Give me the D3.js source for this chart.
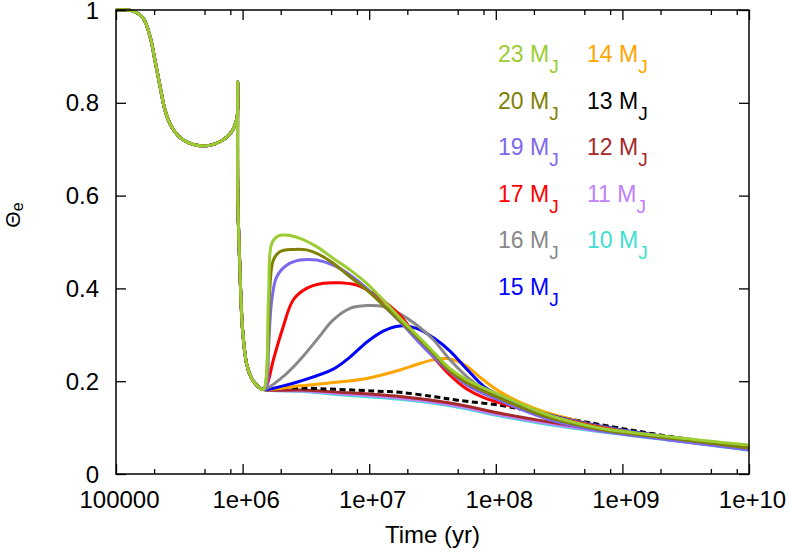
<!DOCTYPE html>
<html lang="en">
<head>
<meta charset="utf-8">
<title>Theta_e vs time</title>
<script src="https://cdn.jsdelivr.net/npm/d3@7"></script>
<style>
  body { margin: 0; background: #fff; }
  svg text { font-family: "Liberation Sans", Arial, Helvetica, sans-serif; fill: #000; }
  .axis path { display: none; }
  .axis line { stroke: #000; stroke-width: 1.3; }
</style>
</head>
<body>
<div id="chart"></div>
<script>
// shared early track (all masses follow it until ~1.5e6 yr)
var early = [[1e5,1.0],[1.35e5,0.998],[1.64e5,0.982],[1.86e5,0.942],[2.03e5,0.892],[2.23e5,0.835],
  [2.44e5,0.784],[2.75e5,0.748],[3.4e5,0.72],[4.9e5,0.707],[6.6e5,0.716],[8.2e5,0.738],[8.97e5,0.763],
  [9.12e5,0.778],[9.14e5,0.845],[9.16e5,0.6],[9.5e5,0.45],[1.0e6,0.31],[1.08e6,0.235],[1.18e6,0.206],
  [1.33e6,0.188],[1.46e6,0.182]];

// tails after the minimum, one list per planet mass
var m23 = [[1.6e6,0.375],[1.7e6,0.497],[1.91e6,0.513],[2.2e6,0.515],[2.84e6,0.508],[3.85e6,0.49],[5.18e6,0.465],
  [7.05e6,0.44],[9.55e6,0.411],[1.29e7,0.375],[1.75e7,0.336],[2.37e7,0.3],[3.2e7,0.264],[4.35e7,0.227],
  [5.9e7,0.203],[1.08e8,0.17],[2.68e8,0.126],[6.65e8,0.099],[2.24e9,0.081],[1e10,0.0625]];
var m20 = [[1.6e6,0.304],[1.64e6,0.4],[1.75e6,0.461],[1.97e6,0.479],[2.51e6,0.484],[3.2e6,0.483],[4.08e6,0.472],
  [5.2e6,0.454],[7.05e6,0.425],[9.55e6,0.397],[1.29e7,0.364],[1.75e7,0.33],[2.37e7,0.296],[3.2e7,0.26],
  [4.35e7,0.222],[5.9e7,0.197],[1.08e8,0.163],[2.68e8,0.121],[6.65e8,0.096],[2.24e9,0.078],[1e10,0.056]];
var m19 = [[1.55e6,0.19],[1.6e6,0.267],[1.7e6,0.375],[1.86e6,0.425],[2.23e6,0.45],[2.84e6,0.461],[3.85e6,0.461],
  [5.2e6,0.45],[7.05e6,0.429],[9.55e6,0.4],[1.29e7,0.364],[1.75e7,0.328],[3.2e7,0.253],[5.9e7,0.192],
  [1.08e8,0.158],[2.68e8,0.117],[6.65e8,0.093],[2.24e9,0.074],[1e10,0.052]];
var m17 = [[1.55e6,0.19],[1.75e6,0.246],[2.09e6,0.317],[2.51e6,0.375],[3.2e6,0.4],[4.34e6,0.411],[5.87e6,0.412],
  [7.96e6,0.407],[1.08e7,0.389],[1.37e7,0.368],[1.75e7,0.342],[2.37e7,0.296],[3.2e7,0.253],[4.35e7,0.213],
  [5.9e7,0.183],[7.96e7,0.165],[1.46e8,0.143],[3.63e8,0.116],[1.22e9,0.088],[1e10,0.055]];
var m16 = [[2.09e6,0.21],[2.84e6,0.246],[3.85e6,0.289],[5.2e6,0.332],[7.05e6,0.357],[9.55e6,0.363],[1.29e7,0.361],
  [1.75e7,0.345],[2.37e7,0.321],[3.2e7,0.29],[4.35e7,0.246],[5.9e7,0.21],[7.96e7,0.183],[1.46e8,0.145],
  [3.63e8,0.117],[1.22e9,0.09],[1e10,0.055]];
var m15 = [[2.09e6,0.19],[2.84e6,0.2],[5.2e6,0.226],[7.05e6,0.252],[9.55e6,0.284],[1.29e7,0.308],[1.75e7,0.319],
  [2.37e7,0.314],[3.2e7,0.294],[4.35e7,0.265],[5.9e7,0.226],[7.96e7,0.19],[1.08e8,0.168],[1.46e8,0.149],
  [3.63e8,0.118],[1.22e9,0.091],[1e10,0.055]];
var m14 = [[2.84e6,0.19],[5.2e6,0.197],[9.55e6,0.206],[1.75e7,0.224],[2.37e7,0.236],[3.2e7,0.246],[4.1e7,0.249],
  [5.0e7,0.243],[5.9e7,0.232],[7.96e7,0.203],[1.08e8,0.177],[2.0e8,0.142],[3.9e8,0.118],[6.65e8,0.103],
  [2.24e9,0.08],[1e10,0.058]];
var m13 = [[2.1e6,0.186],[4.0e6,0.184],[1.07e7,0.179],[1.75e7,0.176],[3.2e7,0.167],[5.0e7,0.159],[1.08e8,0.148],
  [2.0e8,0.134],[3.6e8,0.12],[7.5e8,0.104],[2.24e9,0.082],[1e10,0.056]];
var m12 = [[3e6,0.181],[5.2e6,0.177],[1.75e7,0.167],[4.35e7,0.153],[1.08e8,0.131],[2.68e8,0.112],[6.65e8,0.095],
  [2.24e9,0.077],[1e10,0.054]];
var m11 = [[3e6,0.179],[5.2e6,0.174],[1.75e7,0.163],[4.35e7,0.149],[1.08e8,0.127],[2.68e8,0.108],[6.65e8,0.092],
  [2.24e9,0.075],[1e10,0.052]];
var m10 = [[3e6,0.178],[5.2e6,0.172],[1.75e7,0.161],[4.35e7,0.147],[1.08e8,0.125],[2.68e8,0.106],[6.65e8,0.091],
  [2.24e9,0.074],[1e10,0.051]];

var masses = [23, 20, 19, 17, 16, 15, 14, 13, 12, 11, 10];
var tails = {23: m23, 20: m20, 19: m19, 17: m17, 16: m16, 15: m15, 14: m14, 13: m13, 12: m12, 11: m11, 10: m10};

var xTicks = [1e5, 1e6, 1e7, 1e8, 1e9, 1e10];
var xTickLabels = ["100000", "1e+06", "1e+07", "1e+08", "1e+09", "1e+10"];
var xMinor = [2e5,5e5,8e5, 2e6,5e6,8e6, 2e7,5e7,8e7, 2e8,5e8,8e8, 2e9,5e9,8e9];
var yTicks = [0, 0.2, 0.4, 0.6, 0.8, 1];
var yTickLabels = ["0", "0.2", "0.4", "0.6", "0.8", "1"];

var colors = {23: "#9acd32", 20: "#808000", 19: "#7b68ee", 17: "#ff0000", 16: "#888888", 15: "#0000ff",
              14: "#ffa500", 13: "#000000", 12: "#a52a2a", 11: "#c080ff", 10: "#40e0d0"};

var W = 789, H = 553;
var margin = {top: 10, right: 40, bottom: 79, left: 116};
var width = W - margin.left - margin.right;
var height = H - margin.top - margin.bottom;

var svg = d3.select("#chart").append("svg")
    .attr("width", W).attr("height", H)
  .append("g")
    .attr("transform", "translate(" + margin.left + "," + margin.top + ")");

var x = d3.scaleLog().domain([1e5, 1e10]).range([0, width]);
var y = d3.scaleLinear().domain([0, 1]).range([height, 0]);

var line = d3.line()
    .x(function(d) { return x(d[0]); })
    .y(function(d) { return y(d[1]); })
    .curve(d3.curveCatmullRom.alpha(0.5));

// draw low masses first so the 23 MJ track ends up on top
masses.slice().reverse().forEach(function(m) {
  svg.append("path")
    .datum(early.concat(tails[m]))
    .attr("fill", "none")
    .attr("stroke", colors[m])
    .attr("stroke-width", 3)
    .attr("stroke-linejoin", "round")
    .attr("stroke-dasharray", m === 13 ? "6,3.5" : null)
    .attr("d", line);
});

// axes (ticks point inwards, mirrored on top/right)
svg.append("g").attr("class", "axis")
  .attr("transform", "translate(0," + height + ")")
  .call(d3.axisBottom(x).tickValues(xTicks).tickSizeInner(-10).tickSizeOuter(0).tickPadding(17)
        .tickFormat(function(d, i) { return xTickLabels[i]; }))
  .selectAll("text").attr("font-size", 24).attr("dx", 3);
svg.append("g").attr("class", "axis")
  .attr("transform", "translate(0," + height + ")")
  .call(d3.axisBottom(x).tickValues(xMinor).tickSizeInner(-5).tickSizeOuter(0).tickFormat(""));
svg.append("g").attr("class", "axis")
  .call(d3.axisTop(x).tickValues(xTicks).tickSizeInner(-10).tickSizeOuter(0).tickFormat(""));
svg.append("g").attr("class", "axis")
  .call(d3.axisTop(x).tickValues(xMinor).tickSizeInner(-5).tickSizeOuter(0).tickFormat(""));
svg.append("g").attr("class", "axis")
  .call(d3.axisLeft(y).tickValues(yTicks).tickSizeInner(-10).tickSizeOuter(0).tickPadding(17)
        .tickFormat(function(d, i) { return yTickLabels[i]; }))
  .selectAll("text").attr("font-size", 24).attr("dy", "0.34em");
svg.append("g").attr("class", "axis")
  .attr("transform", "translate(" + width + ",0)")
  .call(d3.axisRight(y).tickValues(yTicks).tickSizeInner(-10).tickSizeOuter(0).tickFormat(""));

svg.append("rect")
  .attr("width", width).attr("height", height)
  .attr("fill", "none").attr("stroke", "#000").attr("stroke-width", 1.5);

// axis titles
svg.append("text")
  .attr("x", width / 2).attr("y", height + 69)
  .attr("text-anchor", "middle").attr("font-size", 24)
  .text("Time (yr)");

var ylab = svg.append("text")
  .attr("transform", "translate(" + (20 - margin.left) + "," + (215 - margin.top) + ") rotate(-90)")
  .attr("text-anchor", "middle").attr("font-size", 21);
ylab.append("tspan").text("\u0398");
ylab.append("tspan").attr("font-size", 16).attr("dy", 3).text("e");

// legend: coloured labels in two columns
var legend = svg.append("g");
masses.forEach(function(m, i) {
  var col = i < 6 ? 0 : 1, row = i < 6 ? i : i - 6;
  var t = legend.append("text")
    .attr("x", 498 - margin.left + col * 89)
    .attr("y", 62 - margin.top + row * 46.6)
    .attr("font-size", 23)
    .style("fill", colors[m]);
  t.append("tspan").text(m + " M");
  t.append("tspan").attr("font-size", 19).attr("dy", 11).text("J");
});
</script>
</body>
</html>
